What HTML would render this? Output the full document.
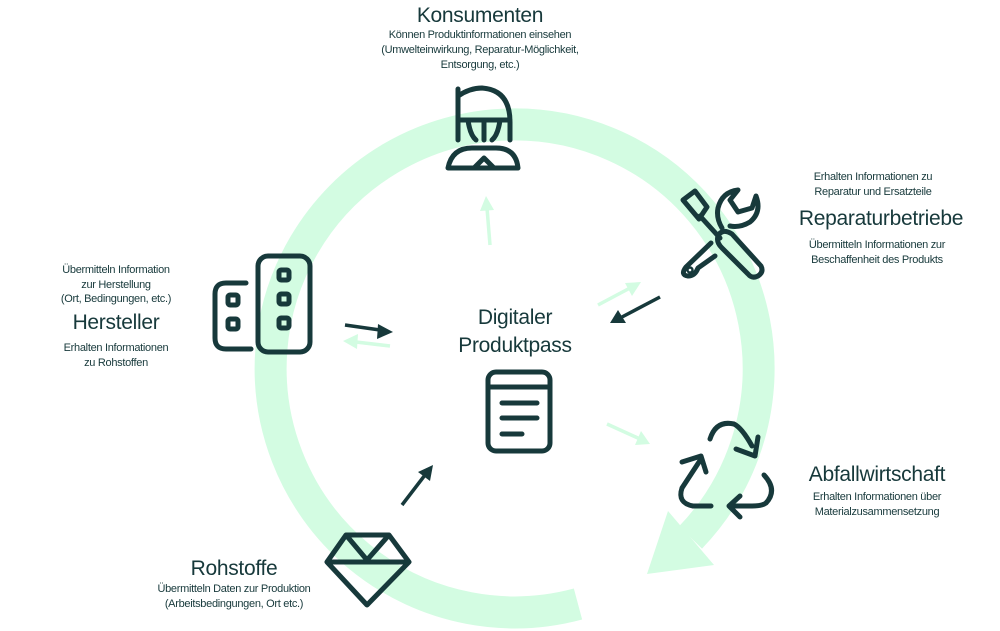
<!DOCTYPE html>
<html><head><meta charset="utf-8"><style>
body{margin:0;background:#fff;}
svg{display:block}
text{font-family:"Liberation Sans",sans-serif;fill:#17393b}
.t{font-size:21px;letter-spacing:-0.3px}
.s{font-size:11px;letter-spacing:-0.3px}
</style></head><body>
<svg width="1000" height="631" viewBox="0 0 1000 631" xmlns="http://www.w3.org/2000/svg">
<!-- big ring -->
<path d="M690.5,537.5 A244,244 0 1 0 578,604" fill="none" stroke="#d3fce2" stroke-width="32"/>
<polygon points="668,511 714,565 647,574" fill="#d3fce2"/>

<g fill="none" stroke="#17393b" stroke-width="5" stroke-linecap="round" stroke-linejoin="round">
<!-- Konsumenten icon -->
<path d="M458,89 L458,140 M458,96 Q470,88 482,88 Q510,90 510,122 L510,140 M458,120 L510,120 M484,120 L484,140 M468,120 Q470,135 476,140 M500,120 Q498,135 492,140"/>
<path d="M448,168 Q452,148 472,148 L496,148 Q516,148 518,168 Z M474,168 L484,158 L494,168"/>
<!-- Hersteller icon -->
<path d="M246,283 L226,283 Q215,283 215,294 L215,338 Q215,349 226,349 L251,349"/>
<rect x="258" y="256" width="52" height="96" rx="10"/>
<rect x="228" y="295" width="10" height="10" rx="2"/><rect x="228" y="319" width="10" height="10" rx="2"/>
<rect x="279" y="270" width="10" height="10" rx="2"/><rect x="279" y="294" width="10" height="10" rx="2"/><rect x="279" y="318" width="10" height="10" rx="2"/>
<!-- Reparatur icon: screwdriver -->
<path d="M683,200 L695,191 L707,207 L699,219 Z M700,216 L720,238"/>
<path d="M718,236 Q722,228 732,234 L761,266 Q764,272 758,276 Q752,279 748,274 L722,248 Q716,242 718,236 Z"/>
<!-- wrench -->
<path d="M711,243 L686,267 Q680,275 688,276 Q695,276 698,268 L715,256"/>
<path d="M722,228 Q716,218 718,208 Q722,192 738,190 L730,200 L738,212 L752,208 L756,196 Q762,212 750,222 Q740,228 730,226"/>
<circle cx="690" cy="270" r="1.2"/>
<!-- document -->
<rect x="488" y="372" width="62" height="79" rx="8"/>
<path d="M488,387 L550,387 M502,403 L537,403 M502,418 L537,418 M502,434 L522,434"/>
<!-- recycle -->
<path d="M710,439 Q716,420 734,424 Q742,428 752,446 M736,449 L755,456 L758,437"/>
<path d="M701,459 L682,488 Q677,503 693,506 L711,506 M682,462 L701,456 L706,472"/>
<path d="M764,475 Q778,490 766,503 Q762,506 752,506 L729,506 M740,496 L729,506 L740,517"/>
<!-- diamond -->
<path d="M346,535 L389,535 L409,562 L367,605 L327,562 Z M327,562 L409,562 M346,535 L367,560 L389,535"/>
</g>

<!-- small arrows -->
<g stroke-width="3.5">
<line x1="345" y1="325" x2="380" y2="330" stroke="#17393b"/>
<line x1="390" y1="346" x2="356" y2="342" stroke="#d3fce2"/>
<line x1="490" y1="245" x2="487" y2="208" stroke="#d3fce2"/>
<line x1="598" y1="305" x2="630" y2="288" stroke="#d3fce2"/>
<line x1="660" y1="297" x2="622" y2="317" stroke="#17393b"/>
<line x1="607" y1="424" x2="640" y2="439" stroke="#d3fce2"/>
<line x1="402" y1="505" x2="425" y2="475" stroke="#17393b"/>
</g>
<g>
<polygon points="393,332 378,324 377,339" fill="#17393b"/>
<polygon points="343,341 358,334 357,349" fill="#d3fce2"/>
<polygon points="486,196 480,211 494,210" fill="#d3fce2"/>
<polygon points="641,282 625,283 632,296" fill="#d3fce2"/>
<polygon points="610,323 626,323 618,310" fill="#17393b"/>
<polygon points="650,444 641,431 635,445" fill="#d3fce2"/>
<polygon points="433,465 418,472 430,481" fill="#17393b"/>
</g>

<!-- text -->
<text class="t" x="480" y="22" text-anchor="middle">Konsumenten</text>
<text class="s" x="480" y="38" text-anchor="middle">Können Produktinformationen einsehen</text>
<text class="s" x="480" y="53" text-anchor="middle">(Umwelteinwirkung, Reparatur-Möglichkeit,</text>
<text class="s" x="480" y="68" text-anchor="middle">Entsorgung, etc.)</text>

<text class="s" x="873" y="180" text-anchor="middle">Erhalten Informationen zu</text>
<text class="s" x="873" y="195" text-anchor="middle">Reparatur und Ersatzteile</text>
<text class="t" x="881" y="225" text-anchor="middle">Reparaturbetriebe</text>
<text class="s" x="877" y="248" text-anchor="middle">Übermitteln Informationen zur</text>
<text class="s" x="877" y="263" text-anchor="middle">Beschaffenheit des Produkts</text>

<text class="s" x="116" y="273" text-anchor="middle">Übermitteln Information</text>
<text class="s" x="116" y="288" text-anchor="middle">zur Herstellung</text>
<text class="s" x="116" y="302" text-anchor="middle">(Ort, Bedingungen, etc.)</text>
<text class="t" x="116" y="329" text-anchor="middle">Hersteller</text>
<text class="s" x="116" y="351" text-anchor="middle">Erhalten Informationen</text>
<text class="s" x="116" y="366" text-anchor="middle">zu Rohstoffen</text>

<text class="t" x="515" y="324" text-anchor="middle">Digitaler</text>
<text class="t" x="515" y="352" text-anchor="middle">Produktpass</text>

<text class="t" x="877" y="481" text-anchor="middle">Abfallwirtschaft</text>
<text class="s" x="877" y="500" text-anchor="middle">Erhalten Informationen über</text>
<text class="s" x="877" y="515" text-anchor="middle">Materialzusammensetzung</text>

<text class="t" x="234" y="575" text-anchor="middle">Rohstoffe</text>
<text class="s" x="234" y="592" text-anchor="middle">Übermitteln Daten zur Produktion</text>
<text class="s" x="234" y="607" text-anchor="middle">(Arbeitsbedingungen, Ort etc.)</text>
</svg>
</body></html>
